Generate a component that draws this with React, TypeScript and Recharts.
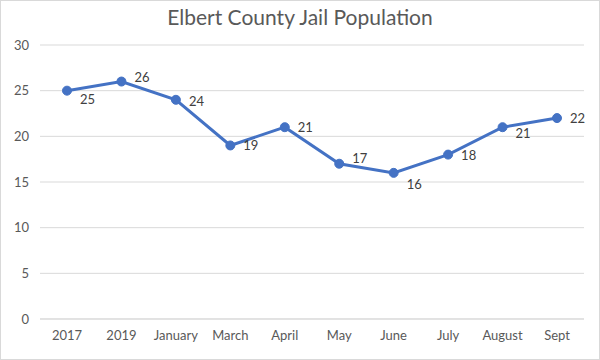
import React from "react";
import { CartesianGrid, LabelList, Line, LineChart, XAxis, YAxis } from "recharts";

const categories = ["2017", "2019", "January", "March", "April", "May", "June", "July", "August", "Sept"];
const population = [25, 26, 24, 19, 21, 17, 16, 18, 21, 22];
const yTicks = [0, 5, 10, 15, 20, 25, 30];
// vertical nudge of each data label, mimicking Excel's auto placement
const labelNudge = [8, -5, 1, 0, 0, -6, 11, 0, 6, 0];

const data = categories.map((month, i) => ({ month, value: population[i] }));

const FONT = "Lato, 'Open Sans', sans-serif";
const GREY = "#595959";

const PointLabel = (props: any) => {
  const { x, y, value, index } = props;
  return (
    <text
      x={x + 13}
      y={y + labelNudge[index]}
      dy={5}
      fontSize={13}
      fill="#404040"
      fontFamily={FONT}
    >
      {value}
    </text>
  );
};

export default function App() {
  return (
    <div
      style={{
        position: "absolute",
        left: 0,
        top: 0,
        width: 598,
        height: 358,
        border: "1px solid #d9d9d9",
        background: "#fff",
        fontFamily: FONT,
      }}
    >
      <div
        style={{
          position: "absolute",
          top: 3,
          width: "100%",
          textAlign: "center",
          fontSize: 21,
          color: GREY,
        }}
      >
        Elbert County Jail Population
      </div>
      <LineChart
        width={598}
        height={358}
        data={data}
        margin={{ top: 44, right: 15, left: 0, bottom: 10 }}
      >
        <CartesianGrid vertical={false} stroke="#d9d9d9" />
        <XAxis
          dataKey="month"
          axisLine={{ stroke: "#d9d9d9" }}
          tickLine={false}
          tick={{ fontSize: 13, fill: GREY, fontFamily: FONT }}
          interval={0}
          padding={{ left: 27, right: 27 }}
          dy={4}
        />
        <YAxis
          domain={[0, 30]}
          ticks={yTicks}
          axisLine={false}
          tickLine={false}
          width={39}
          tick={{ fontSize: 13, fill: GREY, fontFamily: FONT }}
          dx={-3}
        />
        <Line
          type="linear"
          dataKey="value"
          stroke="#4472C4"
          strokeWidth={3}
          dot={{ r: 4.5, fill: "#4472C4", stroke: "#4472C4", strokeWidth: 1 }}
          isAnimationActive={false}
        >
          <LabelList dataKey="value" content={PointLabel} />
        </Line>
      </LineChart>
    </div>
  );
}
